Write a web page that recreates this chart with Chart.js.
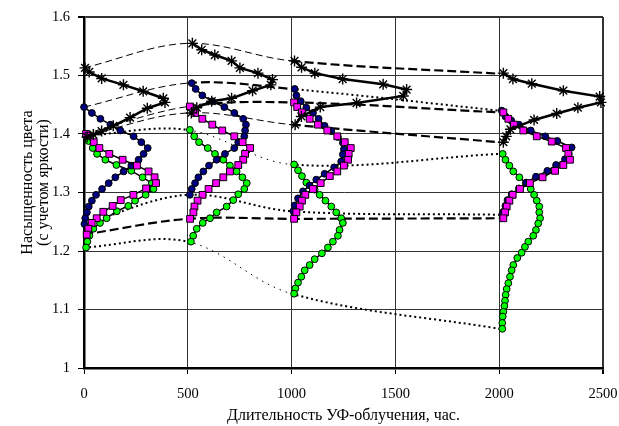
<!DOCTYPE html>
<html>
<head>
<meta charset="utf-8">
<script src="https://cdn.jsdelivr.net/npm/chart.js@4.4.0/dist/chart.umd.min.js"></script>
<style>
  html, body { margin: 0; padding: 0; background: #fff; }
  #wrap { width: 619px; height: 426px; }
</style>
</head>
<body>
<div id="wrap"><canvas id="chart" width="619" height="426"></canvas></div>
<script>
// [hours, saturation] pairs

// t = 0
const star0 = [[5,1.513],[25,1.506],[85,1.495],[190,1.484],[285,1.473],[382,1.461],[390,1.454],[305,1.444],[222,1.428],[141,1.414],[85,1.405],[45,1.399],[15,1.395]];
const navy0 = [[0,1.446],[38,1.436],[79,1.426],[127,1.416],[175,1.406],[239,1.396],[276,1.386],[307,1.376],[287,1.366],[263,1.356],[228,1.346],[191,1.336],[151,1.326],[119,1.316],[87,1.306],[58,1.296],[38,1.286],[23,1.276],[14,1.266],[6,1.256],[2,1.246]];
const magenta0 = [[10,1.400],[22,1.397],[47,1.386],[74,1.376],[122,1.366],[186,1.356],[255,1.346],[311,1.336],[340,1.326],[347,1.316],[299,1.307],[238,1.296],[177,1.287],[138,1.277],[93,1.267],[61,1.256],[37,1.248],[21,1.238],[13,1.228]];
const green0 = [[10,1.397],[22,1.388],[42,1.376],[63,1.366],[103,1.356],[156,1.347],[228,1.337],[282,1.326],[327,1.316],[335,1.306],[297,1.296],[246,1.286],[213,1.277],[158,1.268],[109,1.256],[77,1.248],[45,1.238],[26,1.226],[16,1.216],[10,1.206]];

// t = 500
const star500 = [[522,1.555],[567,1.544],[630,1.535],[711,1.525],[751,1.513],[838,1.504],[908,1.493],[900,1.484],[812,1.474],[711,1.461],[615,1.456],[543,1.445],[517,1.436]];
const navy500 = [[519,1.487],[538,1.477],[570,1.466],[618,1.456],[676,1.446],[724,1.436],[767,1.426],[780,1.416],[776,1.406],[772,1.396],[743,1.386],[724,1.376],[679,1.366],[639,1.356],[602,1.346],[575,1.336],[551,1.326],[535,1.316],[519,1.306],[510,1.296]];
const magenta500 = [[510,1.447],[535,1.436],[570,1.426],[618,1.416],[666,1.406],[724,1.396],[764,1.386],[800,1.376],[776,1.366],[767,1.356],[743,1.347],[703,1.336],[671,1.326],[636,1.316],[600,1.306],[571,1.296],[547,1.286],[532,1.276],[527,1.266],[511,1.255]];
const green500 = [[510,1.407],[531,1.396],[554,1.386],[596,1.376],[631,1.366],[671,1.356],[703,1.346],[735,1.336],[763,1.326],[784,1.316],[772,1.306],[743,1.297],[719,1.287],[687,1.276],[639,1.266],[607,1.256],[572,1.248],[543,1.238],[526,1.226],[515,1.216]];

// t = 1000
const star1000 = [[1014,1.525],[1048,1.514],[1112,1.504],[1246,1.494],[1441,1.485],[1554,1.476],[1538,1.465],[1313,1.453],[1138,1.446],[1047,1.430],[1017,1.416]];
const navy1000 = [[1015,1.477],[1023,1.466],[1044,1.456],[1071,1.445],[1103,1.436],[1130,1.426],[1159,1.414],[1191,1.405],[1223,1.395],[1247,1.385],[1252,1.374],[1247,1.365],[1239,1.353],[1205,1.343],[1159,1.332],[1119,1.322],[1087,1.312],[1055,1.302],[1031,1.290],[1015,1.278],[1008,1.268]];
const magenta1000 = [[1012,1.454],[1027,1.446],[1050,1.437],[1087,1.426],[1127,1.416],[1172,1.406],[1220,1.396],[1256,1.386],[1285,1.376],[1275,1.366],[1272,1.356],[1252,1.346],[1220,1.336],[1184,1.328],[1140,1.316],[1103,1.306],[1066,1.296],[1050,1.286],[1039,1.276],[1023,1.266],[1012,1.255]];
const green1000 = [[1012,1.348],[1031,1.338],[1050,1.328],[1071,1.317],[1111,1.305],[1135,1.296],[1163,1.286],[1191,1.276],[1215,1.266],[1239,1.256],[1247,1.248],[1231,1.236],[1223,1.226],[1199,1.216],[1175,1.206],[1146,1.196],[1111,1.186],[1087,1.176],[1063,1.167],[1047,1.156],[1031,1.146],[1018,1.136],[1012,1.127]];

// t = 2000
const star2000 = [[2020,1.504],[2066,1.494],[2157,1.486],[2309,1.474],[2484,1.464],[2490,1.454],[2379,1.445],[2277,1.435],[2168,1.424],[2054,1.408],[2034,1.396],[2020,1.386]];
const navy2000 = [[2012,1.440],[2030,1.430],[2058,1.423],[2095,1.416],[2152,1.406],[2222,1.396],[2280,1.388],[2349,1.377],[2335,1.366],[2317,1.357],[2274,1.347],[2232,1.337],[2177,1.327],[2130,1.317],[2095,1.307],[2060,1.297],[2040,1.287],[2030,1.277],[2020,1.267],[2015,1.262]];
const magenta2000 = [[2020,1.437],[2044,1.426],[2071,1.416],[2116,1.406],[2181,1.396],[2253,1.387],[2322,1.376],[2333,1.366],[2341,1.356],[2309,1.347],[2269,1.337],[2209,1.326],[2148,1.316],[2100,1.306],[2065,1.296],[2049,1.286],[2036,1.276],[2028,1.266],[2020,1.256]];
const green2000 = [[2017,1.366],[2030,1.356],[2049,1.346],[2068,1.336],[2097,1.326],[2129,1.316],[2152,1.306],[2168,1.296],[2181,1.286],[2193,1.276],[2193,1.266],[2197,1.256],[2188,1.247],[2177,1.236],[2164,1.226],[2140,1.216],[2124,1.207],[2108,1.197],[2087,1.188],[2068,1.176],[2060,1.167],[2052,1.156],[2044,1.145],[2036,1.135],[2031,1.125],[2028,1.115],[2025,1.106],[2020,1.096],[2017,1.088],[2015,1.077],[2015,1.067]];

// lines joining curve ends across exposure times
const starTop = [[0,1.513],[500,1.555],[1000,1.525],[2000,1.503]];
const navyTop = [[0,1.446],[500,1.487],[1000,1.477],[2000,1.440]];
const magentaTop = [[0,1.400],[500,1.447],[1000,1.454],[2000,1.437]];
const starBottom = [[0,1.396],[500,1.436],[1000,1.416],[2000,1.386]];
const greenTop = [[0,1.397],[500,1.407],[1000,1.348],[2000,1.366]];
const navyBottom = [[0,1.246],[500,1.296],[1000,1.268],[2000,1.262]];
const magentaBottom = [[0,1.228],[500,1.255],[1000,1.255],[2000,1.256]];
const greenBottom = [[0,1.206],[500,1.216],[1000,1.127],[2000,1.067]];

const xTitle = 'Длительность УФ-облучения, час.';
const yTitle = ['\u00a0\u00a0\u00a0\u00a0\u00a0Насыщенность цвета', '\u00a0\u00a0\u00a0\u00a0\u00a0(с учетом яркости)'];

Chart.defaults.font.family = "'Liberation Serif', 'Times New Roman', serif";
Chart.defaults.font.size = 14.5;
Chart.defaults.color = '#000';

const lineStyles = {
  thin:  { dash: [7, 4], width: 1 },
  thick: { dash: [9, 4], width: 2.2 },
  dot:   { dash: [2, 3], width: 2 },
  fine:  { dash: [1.5, 5], width: 1 }
};

function pts(arr) {
  return arr.map(p => ({ x: p[0], y: p[1] }));
}

function link(arr, kinds) {
  return {
    data: pts(arr),
    showLine: true,
    pointRadius: 0,
    pointHoverRadius: 0,
    borderColor: '#000',
    borderWidth: 1,
    tension: 0.35,
    order: 10,
    clip: false,
    segment: {
      borderDash: c => lineStyles[kinds[c.p0DataIndex]].dash,
      borderWidth: c => lineStyles[kinds[c.p0DataIndex]].width
    }
  };
}

const navyStyle = { pointStyle: 'circle', pointRadius: 3.4, pointBackgroundColor: '#000080', order: 2 };
const magentaStyle = { pointStyle: 'rect', pointRadius: 4.8, pointBackgroundColor: '#ff00ff', order: 1 };
const greenStyle = { pointStyle: 'circle', pointRadius: 3.4, pointBackgroundColor: '#00ff00', order: 3 };
const starStyle = { pointStyle: 'star', pointRadius: 5.5, pointBorderWidth: 1.4, pointBackgroundColor: '#000', borderWidth: 2.5, order: 0 };

function curve(arr, style) {
  return Object.assign({
    data: pts(arr),
    showLine: true,
    tension: 0,
    borderColor: '#000',
    borderWidth: 1.5,
    pointBorderColor: '#000',
    pointBorderWidth: 1,
    pointHoverRadius: 0,
    clip: false
  }, style);
}

const datasets = [
  curve(star0, starStyle), curve(star500, starStyle), curve(star1000, starStyle), curve(star2000, starStyle),
  curve(magenta0, magentaStyle), curve(magenta500, magentaStyle), curve(magenta1000, magentaStyle), curve(magenta2000, magentaStyle),
  curve(navy0, navyStyle), curve(navy500, navyStyle), curve(navy1000, navyStyle), curve(navy2000, navyStyle),
  curve(green0, greenStyle), curve(green500, greenStyle), curve(green1000, greenStyle), curve(green2000, greenStyle),
  link(starTop, ['thin', 'thin', 'thick']),
  link(navyTop, ['thin', 'thick', 'dot']),
  link(magentaTop, ['thin', 'thick', 'thick']),
  link(starBottom, ['thin', 'thin', 'thick']),
  link(greenTop, ['dot', 'fine', 'dot']),
  link(navyBottom, ['dot', 'dot', 'dot']),
  link(magentaBottom, ['thick', 'thick', 'thick']),
  link(greenBottom, ['dot', 'fine', 'dot'])
];

new Chart(document.getElementById('chart'), {
  type: 'scatter',
  data: { datasets },
  options: {
    responsive: false,
    devicePixelRatio: 1,
    animation: false,
    events: [],
    layout: { padding: { top: 17, right: 16, left: 0, bottom: 0 } },
    plugins: { legend: { display: false }, tooltip: { enabled: false } },
    scales: {
      x: {
        type: 'linear',
        min: 0,
        max: 2500,
        ticks: { stepSize: 500, padding: 11, maxRotation: 0, callback: v => String(v) },
        grid: {
          color: '#333',
          lineWidth: c => (c.tick && c.tick.value >= 2500 ? 2 : 1),
          tickColor: '#000',
          tickLength: 6
        },
        border: { color: '#000', width: 2.5 },
        title: {
          display: true,
          text: xTitle,
          padding: { top: 0, bottom: 2 },
          font: { size: 16, lineHeight: 1.0 }
        },
        afterFit: s => {
          s.height = 58;
          s.paddingLeft = 0;
          s.paddingRight = 0;
        }
      },
      y: {
        min: 1,
        max: 1.6,
        ticks: {
          stepSize: 0.1,
          padding: 8,
          callback: v => String(Math.round(v * 10) / 10)
        },
        grid: {
          color: '#333',
          lineWidth: c => (c.tick && c.tick.value > 1.59 ? 2 : 1),
          tickColor: '#000',
          tickLength: 6
        },
        border: { color: '#000', width: 2.5 },
        title: {
          display: true,
          text: yTitle,
          padding: { top: 20, bottom: 0 },
          font: { size: 16, lineHeight: 1.0 }
        },
        afterFit: s => { s.width = 84; }
      }
    }
  }
});
</script>
</body>
</html>
